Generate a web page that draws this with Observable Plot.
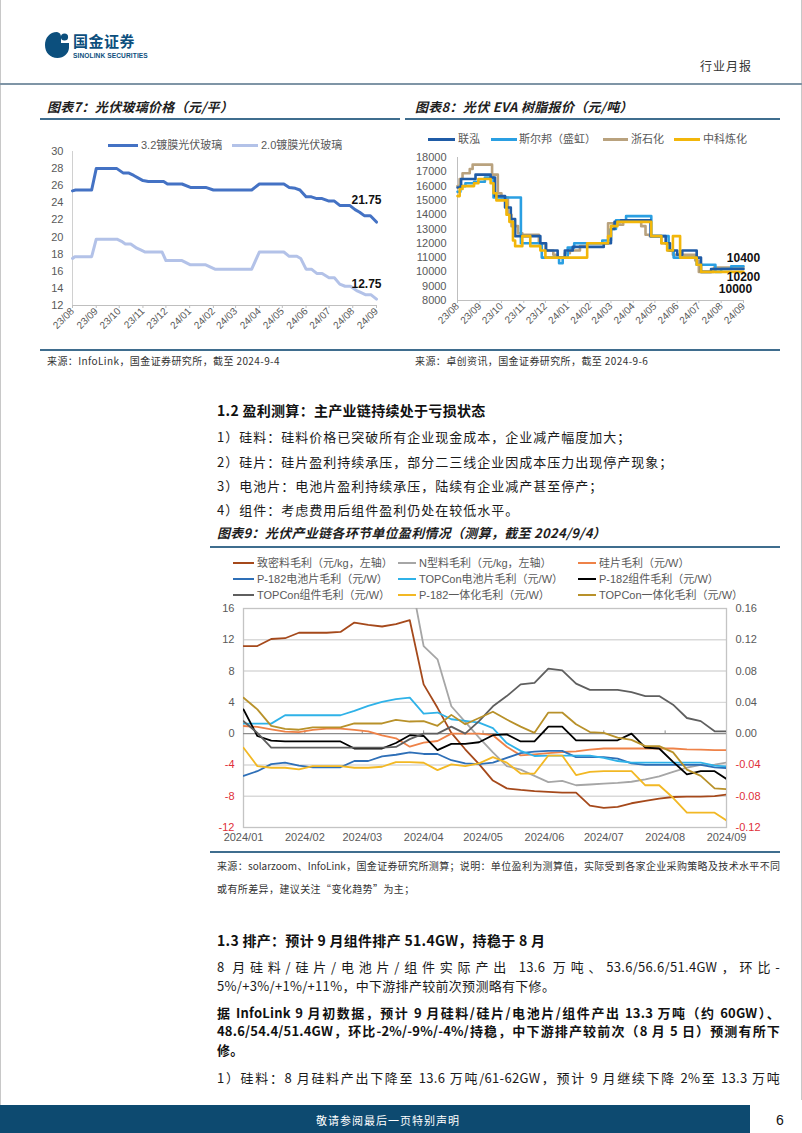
<!DOCTYPE html>
<html><head><meta charset="utf-8">
<script src="https://cdn.jsdelivr.net/npm/d3@7"></script>
<script src="https://cdn.jsdelivr.net/npm/@observablehq/plot@0.6"></script>
<style>
body{margin:0;background:#fff;}
#page{position:relative;width:802px;height:1133px;overflow:hidden;background:#fff;font-family:"Noto Sans CJK SC","Liberation Sans",sans-serif;color:#1a1a1a;}
#page svg{background:transparent;}
</style></head>
<body><div id="page"></div>
<script>
// ---------------- DATA ----------------
// Chart 7: PV glass price (元/平)
const c7Months = ["2023-08-01","2023-09-01","2023-10-01","2023-11-01","2023-12-01","2024-01-01","2024-02-01","2024-03-01","2024-04-01","2024-05-01","2024-06-01","2024-07-01","2024-08-01","2024-09-01"];
const c7YTicks = [12,14,16,18,20,22,24,26,28,30];
const glass32 = [["2023-08-01",25.4],["2023-08-05",25.5],["2023-08-26",25.5],["2023-09-01",28],["2023-09-28",28],["2023-10-06",27.5],["2023-10-13",27.5],["2023-10-20",27.2],["2023-11-01",26.6],["2023-11-08",26.5],["2023-11-28",26.5],["2023-12-03",26.2],["2023-12-22",26.2],["2024-01-02",25.8],["2024-01-22",25.8],["2024-02-01",25.5],["2024-03-22",25.5],["2024-04-01",26.2],["2024-05-03",26.2],["2024-05-10",25.8],["2024-05-18",25.7],["2024-05-24",25.5],["2024-06-01",24.7],["2024-06-08",24.7],["2024-06-15",24.5],["2024-06-22",24.5],["2024-07-01",24.2],["2024-07-08",24.2],["2024-07-15",23.7],["2024-07-28",23.7],["2024-08-04",23.2],["2024-08-10",22.9],["2024-08-16",22.5],["2024-08-24",22.5],["2024-09-01",21.75]];
const glass20 = [["2023-08-01",17.5],["2023-08-04",17.7],["2023-08-26",17.7],["2023-09-01",19.75],["2023-09-28",19.75],["2023-10-04",19.5],["2023-10-09",19.2],["2023-10-16",19.2],["2023-10-24",18.7],["2023-10-29",18.5],["2023-11-04",18.25],["2023-11-26",18.25],["2023-12-01",17.25],["2023-12-22",17.25],["2024-01-02",16.75],["2024-01-22",16.75],["2024-02-03",16.25],["2024-03-22",16.25],["2024-04-01",18.25],["2024-05-03",18.25],["2024-05-10",17.75],["2024-05-20",17.75],["2024-05-25",17.5],["2024-06-01",16.25],["2024-06-08",16.25],["2024-06-15",15.75],["2024-06-22",15.75],["2024-07-01",15.25],["2024-07-08",15.25],["2024-07-15",14.5],["2024-07-22",14.25],["2024-07-29",14.25],["2024-08-06",13.75],["2024-08-12",13.5],["2024-08-18",13.25],["2024-08-25",13.25],["2024-09-01",12.75]];
const c7Labels = [{date:"2024-09-01", value:21.75, text:"21.75", dy:-22},{date:"2024-09-01", value:12.75, text:"12.75", dy:-15}];

// Chart 8: EVA resin price (元/吨)
const c8YTicks = [8000,9000,10000,11000,12000,13000,14000,15000,16000,17000,18000];
const evaLH = [["2023-08-01",15900],["2023-08-06",16500],["2023-08-26",16800],["2023-09-16",16600],["2023-09-22",15300],["2023-10-06",14500],["2023-10-14",13700],["2023-10-20",12500],["2023-11-24",12000],["2023-12-02",11500],["2023-12-18",11000],["2023-12-28",11500],["2024-01-08",11750],["2024-02-20",12000],["2024-03-01",13000],["2024-03-06",13500],["2024-03-15",13600],["2024-04-25",12500],["2024-05-16",12000],["2024-05-22",11500],["2024-06-01",11200],["2024-06-08",11500],["2024-06-28",11000],["2024-07-04",10000],["2024-07-18",10200],["2024-09-01",10200]];
const evaSEB = [["2023-08-01",15600],["2023-08-05",16000],["2023-08-12",16200],["2023-08-24",16300],["2023-09-08",16600],["2023-09-20",15200],["2023-10-28",12000],["2023-11-26",11000],["2023-12-20",10600],["2023-12-25",11000],["2024-01-01",11700],["2024-01-10",12000],["2024-02-18",12200],["2024-03-01",13000],["2024-03-08",13600],["2024-03-22",13900],["2024-04-26",12500],["2024-05-20",11500],["2024-05-27",11000],["2024-06-28",10500],["2024-07-24",10000],["2024-08-01",10200],["2024-08-15",10400],["2024-09-01",10400]];
const evaZSH = [["2023-08-01",16000],["2023-08-04",16500],["2023-08-08",16900],["2023-08-18",17200],["2023-08-22",17500],["2023-09-18",16800],["2023-09-26",15500],["2023-10-01",15200],["2023-10-10",14000],["2023-10-15",13200],["2023-10-24",12700],["2023-10-30",12600],["2023-11-22",12000],["2023-12-01",11500],["2023-12-12",11200],["2023-12-18",11000],["2023-12-28",11300],["2024-01-04",11500],["2024-01-18",11800],["2024-01-28",12000],["2024-02-26",13400],["2024-03-04",13300],["2024-03-18",13600],["2024-04-12",13200],["2024-04-18",12600],["2024-04-24",12500],["2024-05-10",12000],["2024-05-20",11500],["2024-05-26",11200],["2024-06-26",10800],["2024-07-01",10000],["2024-07-22",10300],["2024-09-01",10300]];
const evaZKLH = [["2023-08-01",15300],["2023-08-04",15800],["2023-08-08",16000],["2023-08-24",16200],["2023-08-30",16500],["2023-09-16",16200],["2023-09-20",15500],["2023-09-24",15000],["2023-10-08",14000],["2023-10-12",13500],["2023-10-17",12200],["2023-10-20",11800],["2023-10-30",12500],["2023-11-10",11800],["2023-11-24",11500],["2023-12-01",11000],["2024-01-28",12000],["2024-02-26",12500],["2024-03-01",13200],["2024-03-10",13500],["2024-04-26",12500],["2024-05-10",12000],["2024-05-18",11500],["2024-05-26",12500],["2024-06-05",11000],["2024-06-28",10500],["2024-07-04",10000],["2024-09-01",10000]];
const c8Labels = [{value:10400, text:"10400", dy:-8, dx:0},{value:10200, text:"10200", dy:8, dx:0},{value:10000, text:"10000", dy:17, dx:-8}];

// Chart 9: unit margins, weekly
const c9Months = ["2024-01-01","2024-02-01","2024-03-01","2024-04-01","2024-05-01","2024-06-01","2024-07-01","2024-08-01","2024-09-01"];
const c9LeftTicks = [-12,-8,-4,0,4,8,12,16];
const c9Weeks = ["2024-01-01","2024-01-08","2024-01-15","2024-01-22","2024-01-29","2024-02-05","2024-02-12","2024-02-19","2024-02-26","2024-03-04","2024-03-11","2024-03-18","2024-03-25","2024-04-01","2024-04-08","2024-04-15","2024-04-22","2024-04-29","2024-05-06","2024-05-13","2024-05-20","2024-05-27","2024-06-03","2024-06-10","2024-06-17","2024-06-24","2024-07-01","2024-07-08","2024-07-15","2024-07-22","2024-07-29","2024-08-05","2024-08-12","2024-08-19","2024-08-26","2024-09-01"];
// left axis (元/kg)
const denseSi = [11.2,11.2,12.1,12.2,12.9,12.9,12.9,13.0,14.2,13.9,13.7,14.0,14.5,6.3,3.3,0.1,-2.0,-3.9,-6.0,-7.0,-7.2,-7.35,-7.45,-7.55,-7.55,-9.2,-9.5,-9.35,-8.9,-8.6,-8.3,-8.1,-8.05,-8.05,-8.0,-7.8];
const nTypeSi = [null,null,null,null,null,null,null,null,null,null,null,null,20.5,11.2,9.5,3.5,1.5,-0.5,-2.4,-4.15,-4.6,-5.4,-6.2,-6.05,-6.6,-6.5,-6.4,-6.3,-6.15,-5.85,-5.45,-4.9,-4.35,-4.0,-3.95,-3.7];
// right axis (元/W)
const wafer = [0.0098,0.0086,0.0056,0.0026,0.002,0.0047,0.0064,0.0064,0.0047,0.003,-0.0021,-0.006,-0.0167,-0.0115,-0.0094,0,0,0,-0.002,-0.0167,-0.0278,-0.0265,-0.025,-0.0235,-0.0227,-0.0205,-0.019,-0.019,-0.019,-0.019,-0.019,-0.019,-0.02,-0.0205,-0.021,-0.021];
const p182Cell = [-0.054,-0.048,-0.039,-0.037,-0.041,-0.043,-0.043,-0.043,-0.035,-0.035,-0.029,-0.027,-0.024,-0.026,-0.026,-0.034,-0.038,-0.039,-0.037,-0.031,-0.025,-0.023,-0.022,-0.022,-0.03,-0.03,-0.03,-0.032,-0.038,-0.04,-0.04,-0.04,-0.04,-0.04,-0.043,-0.044];
const topconCell = [0.0128,0.0128,0.0128,0.0235,0.0235,0.0235,0.0235,0.0235,0.029,0.0355,0.0406,0.044,0.046,0.0256,0.027,0.0184,0.0162,0.014,0.007,-0.012,-0.022,-0.0286,-0.028,-0.028,-0.028,-0.028,-0.031,-0.035,-0.037,-0.037,-0.037,-0.037,-0.037,-0.037,-0.041,-0.042];
const p182Mod = [0.031,-0.003,-0.009,-0.01,-0.01,-0.01,-0.01,-0.01,-0.019,-0.019,-0.019,-0.012,-0.002,-0.003,-0.021,-0.013,-0.013,-0.011,-0.002,-0.001,-0.01,-0.01,0.009,0.009,-0.0085,-0.0085,-0.0085,-0.0085,0.0,-0.018,-0.019,-0.036,-0.052,-0.048,-0.048,-0.058];
const topconMod = [0.016,0.001,-0.018,-0.018,-0.018,-0.018,-0.018,-0.018,-0.018,-0.018,-0.018,-0.017,-0.007,0,0,0.009,0,0.016,0.035,0.048,0.063,0.065,0.083,0.081,0.064,0.056,0.056,0.056,0.053,0.048,0.048,0.037,0.02,0.016,0.003,0.003];
const p182Int = [-0.018,-0.0415,-0.0436,-0.0436,-0.0457,-0.0415,-0.0415,-0.0415,-0.0436,-0.0436,-0.0423,-0.0363,-0.0363,-0.0372,-0.0466,-0.0393,-0.0415,-0.038,-0.03,-0.037,-0.051,-0.051,-0.028,-0.028,-0.053,-0.049,-0.048,-0.048,-0.048,-0.066,-0.066,-0.082,-0.101,-0.101,-0.101,-0.111];
const topconInt = [0.046,0.031,0.01,0.006,0.005,0.008,0.008,0.008,0.013,0.013,0.013,0.0175,0.0155,0.016,0.01,0.024,0.012,0.02,0.028,0.018,0.009,0.001,0.027,0.027,0.012,0.002,0.001,-0.005,-0.008,-0.016,-0.016,-0.024,-0.046,-0.054,-0.07,-0.071];

const c9Series = [
  {name:"致密料毛利（元/kg，左轴）", vals:denseSi, k:1, color:"#a5491b"},
  {name:"N型料毛利（元/kg，左轴）", vals:nTypeSi, k:1, color:"#a6a6a6"},
  {name:"硅片毛利（元/W）", vals:wafer, k:100, color:"#ee8248"},
  {name:"P-182电池片毛利（元/W）", vals:p182Cell, k:100, color:"#2e6fb7"},
  {name:"TOPCon电池片毛利（元/W）", vals:topconCell, k:100, color:"#2fb2e8"},
  {name:"P-182组件毛利（元/W）", vals:p182Mod, k:100, color:"#000000"},
  {name:"TOPCon组件毛利（元/W）", vals:topconMod, k:100, color:"#5f5f5f"},
  {name:"P-182一体化毛利（元/W）", vals:p182Int, k:100, color:"#f2b824"},
  {name:"TOPCon一体化毛利（元/W）", vals:topconInt, k:100, color:"#b8912a"}
];

// ---------------- HELPERS ----------------
const page = document.getElementById("page");
const D = s => new Date(s);
function txt(s, x, yc, css, lh){ lh = lh||16; const d=document.createElement("div"); d.textContent=s;
  d.style.cssText="position:absolute;white-space:nowrap;left:"+x+"px;top:"+(yc-lh/2)+"px;line-height:"+lh+"px;"+(css||""); page.appendChild(d); return d;}
function txtJ(s, x, yc, w, css, lh){ const d=txt(s,x,yc,css,lh); d.style.width=w+"px"; d.style.textAlign="justify"; d.style.textAlignLast="justify"; return d;}
function rect(x,y,w,h,color){ const d=document.createElement("div"); d.style.cssText="position:absolute;left:"+x+"px;top:"+y+"px;width:"+w+"px;height:"+h+"px;background:"+color+";"; page.appendChild(d); return d;}
function placeChart(svg, x, y){ const w=document.createElement("div"); w.style.cssText="position:absolute;left:"+x+"px;top:"+y+"px;"; w.appendChild(svg); page.appendChild(w);}
function legItem(x1, x2, y, th, color, label, tx, css){ rect(x1, y-th/2, x2-x1, th, color); txt(label, tx, y, "font-family:'Liberation Sans','Noto Sans CJK SC';font-size:11px;color:#595959;"+(css||""), 14); }

const FONT = "Liberation Sans, Noto Sans CJK SC, sans-serif";

// ---------------- CHART 7 ----------------
const c7 = Plot.plot({
  width:360, height:200, marginLeft:32, marginRight:24, marginTop:21, marginBottom:25,
  style:{fontFamily:FONT, fontSize:"11px", color:"#595959", background:"transparent"},
  x:{type:"utc", domain:[D(c7Months[0]), D(c7Months[c7Months.length-1])], axis:null},
  y:{domain:[12,30], axis:null},
  marks:[
    Plot.ruleX([D(c7Months[0])], {stroke:"#d0d0d0"}),
    Plot.ruleY([12], {stroke:"#bfbfbf"}),
    Plot.axisY({ticks:c7YTicks, tickSize:0, tickPadding:9, label:null, fontSize:11}),
    Plot.axisX({ticks:c7Months.map(D), tickFormat:d3.utcFormat("%y/%m"), tickRotate:-45, tickSize:3, tickPadding:1, label:null, fontSize:10, stroke:"#bfbfbf"}),
    Plot.line(glass20, {x:d=>D(d[0]), y:d=>d[1], stroke:"#b3c2e8", strokeWidth:3}),
    Plot.line(glass32, {x:d=>D(d[0]), y:d=>d[1], stroke:"#4472c4", strokeWidth:3}),
    ...c7Labels.map(l => Plot.text([l], {x:d=>D(d.date), y:"value", text:"text", dx:-10, dy:l.dy, fontWeight:"bold", fontSize:12, fill:"#111"}))
  ]
});
placeChart(c7, 40, 130);

// ---------------- CHART 8 ----------------
const c8End = D("2024-09-01");
const c8 = Plot.plot({
  width:390, height:200, marginLeft:52, marginRight:52, marginTop:27, marginBottom:30,
  style:{fontFamily:FONT, fontSize:"11px", color:"#595959", background:"transparent"},
  x:{type:"utc", domain:[D(c7Months[0]), c8End], axis:null},
  y:{domain:[8000,18000], axis:null},
  marks:[
    Plot.ruleX([D(c7Months[0])], {stroke:"#bfbfbf"}),
    Plot.ruleY([8000], {stroke:"#bfbfbf"}),
    Plot.axisY({ticks:c8YTicks, tickFormat:d3.format("d"), tickSize:0, tickPadding:11, label:null, fontSize:11}),
    Plot.axisX({ticks:c7Months.map(D), tickFormat:d3.utcFormat("%y/%m"), tickRotate:-45, tickSize:3, tickPadding:1, label:null, fontSize:10, stroke:"#bfbfbf"}),
    Plot.line(evaZSH, {x:d=>D(d[0]), y:d=>d[1], stroke:"#b9a27e", strokeWidth:2.6, curve:"step-after"}),
    Plot.line(evaSEB, {x:d=>D(d[0]), y:d=>d[1], stroke:"#2a9fe2", strokeWidth:2.6, curve:"step-after"}),
    Plot.line(evaLH, {x:d=>D(d[0]), y:d=>d[1], stroke:"#1f5ba6", strokeWidth:2.6, curve:"step-after"}),
    Plot.line(evaZKLH, {x:d=>D(d[0]), y:d=>d[1], stroke:"#f2b60a", strokeWidth:2.6, curve:"step-after"}),
    ...c8Labels.map(l => Plot.text([l], {x:()=>c8End, y:"value", text:"text", dx:l.dx, dy:l.dy, fontWeight:"bold", fontSize:12, fill:"#111"}))
  ]
});
placeChart(c8, 405, 130);

// ---------------- CHART 9 ----------------
const c9Data = c9Series.map(s => c9Weeks.map((w,i) => ({date:D(w), v: s.vals[i]==null ? NaN : s.vals[i]*s.k})));
const c9End = D(c9Months[c9Months.length-1]);
const c9 = Plot.plot({
  width:580, height:250, marginLeft:33, marginRight:64, marginTop:8, marginBottom:23,
  style:{fontFamily:FONT, fontSize:"11px", color:"#595959", background:"transparent"},
  x:{type:"utc", domain:[D(c9Months[0]), c9End], axis:null},
  y:{domain:[-12,16], axis:null},
  marks:[
    Plot.ruleY(c9LeftTicks.filter(d=>d!==0 && d!==16 && d!==-12), {stroke:"#d9d9d9", strokeWidth:1.4}),
    Plot.frame({stroke:"#c4c4c4", strokeWidth:1.3}),
    Plot.ruleY([0], {stroke:"#8c8c8c", strokeWidth:1.1}),
    Plot.ruleX(c9Months.slice(1,-1).map(D), {y1:0, y2:0.35, stroke:"#8c8c8c"}),
    Plot.text(c9LeftTicks.filter(d=>d>=0), {y:d=>d, text:d=>String(d), frameAnchor:"left", textAnchor:"end", dx:-9, fill:"#595959", fontSize:11}),
    Plot.text(c9LeftTicks.filter(d=>d<0), {y:d=>d, text:d=>String(d), frameAnchor:"left", textAnchor:"end", dx:-9, fill:"#e0303a", fontSize:11}),
    Plot.text(c9LeftTicks.filter(d=>d>=0), {y:d=>d, text:d=>(d/100).toFixed(2), frameAnchor:"right", textAnchor:"start", dx:9, fill:"#595959", fontSize:11}),
    Plot.text(c9LeftTicks.filter(d=>d<0), {y:d=>d, text:d=>(d/100).toFixed(2), frameAnchor:"right", textAnchor:"start", dx:9, fill:"#e0303a", fontSize:11}),
    Plot.axisX({ticks:c9Months.map(D), tickFormat:d3.utcFormat("%Y/%m"), tickSize:0, tickPadding:6, label:null, fontSize:11}),
    ...c9Series.map((s,i) => Plot.line(c9Data[i], {x:"date", y:"v", stroke:s.color, strokeWidth:1.8, clip:true}))
  ]
});
placeChart(c9, 210, 600);

// ---------------- PAGE TEXT & DECOR ----------------
rect(0,0,1,1133,"#c8c8c8"); rect(801,0,1,1100,"#c8c8c8");
// header
const logo = document.createElement("div");
logo.style.cssText="position:absolute;left:44px;top:31px;";
logo.innerHTML = '<svg width="26" height="28" viewBox="0 0 26 28"><path d="M13 1 C5.5 1 1 7 1 14 C1 21.5 6 27 13.5 27 C20 27 24.5 22.5 25 17 L25 12 L17 12 L17 6 C17 3.5 16 1.5 13 1 Z" fill="#0c4f7d"/><circle cx="20.5" cy="6" r="3.6" fill="#0c4f7d"/></svg>';
page.appendChild(logo);
txt("国金证券", 73, 41, "font-weight:bold;font-size:15px;color:#0c4f7d;letter-spacing:0.5px;", 18);
txt("SINOLINK SECURITIES", 73, 55.5, "font-family:'Liberation Sans';font-weight:bold;font-size:6.6px;color:#0c4f7d;letter-spacing:0.1px;", 8);
txt("行业月报", 700, 66, "font-size:12px;color:#333;letter-spacing:1px;");
rect(0,83,802,2,"#7f95a6");

// chart titles
const TTL = "font-weight:bold;font-style:italic;font-size:13px;color:#1e1e1e;letter-spacing:0.3px;";
txt("图表7：光伏玻璃价格（元/平）", 47, 107, TTL);
rect(40,118,360,1.5,"#3f6d8e");
txt("图表8：光伏 EVA 树脂报价（元/吨）", 415, 107, TTL);
rect(405,118,375,1.5,"#3f6d8e");

// legends chart 7
legItem(108,138,145,3,"#4472c4","3.2镀膜光伏玻璃",141);
legItem(232,258,145,3,"#b3c2e8","2.0镀膜光伏玻璃",261);
// legends chart 8
legItem(428,455,139,3,"#1f5ba6","联泓",458);
legItem(491,517,139,3,"#2a9fe2","斯尔邦（盛虹）",519);
legItem(603,628,139,3,"#b9a27e","浙石化",631);
legItem(674,700,139,3,"#f2b60a","中科炼化",703);

// sources 7/8
rect(40,349,740,1.5,"#3f6d8e");
const SRC = "font-size:10px;color:#333;letter-spacing:0.4px;";
txt("来源：InfoLink，国金证券研究所，截至 2024-9-4", 47, 361, SRC);
txt("来源：卓创资讯，国金证券研究所，截至 2024-9-6", 415, 361, SRC);

// section 1.2
const BODY = "font-size:13px;color:#1a1a1a;letter-spacing:1px;";
txt("1.2 盈利测算：主产业链持续处于亏损状态", 217, 410, "font-size:14px;font-weight:bold;color:#111;letter-spacing:0.3px;");
txt("1）硅料：硅料价格已突破所有企业现金成本，企业减产幅度加大；", 217, 437, BODY);
txt("2）硅片：硅片盈利持续承压，部分二三线企业因成本压力出现停产现象；", 217, 462, BODY);
txt("3）电池片：电池片盈利持续承压，陆续有企业减产甚至停产；", 217, 486, BODY);
txt("4）组件：考虑费用后组件盈利仍处在较低水平。", 217, 510, BODY);

// chart 9 title
txt("图表9：光伏产业链各环节单位盈利情况（测算，截至 2024/9/4）", 217, 533, TTL);
rect(210,546,570,1.5,"#3f6d8e");
// chart 9 legend (3 columns x 3 rows)
const legCols = [[233,254,257],[398,416,419],[578,596,599]];
const legRows = [563,579,595];
c9Series.forEach((s,i) => { const c = legCols[i%3], r = legRows[Math.floor(i/3)]; legItem(c[0], c[1], r, 2, s.color, s.name, c[2]); });

// chart 9 source
rect(210,851,570,1.5,"#3f6d8e");
txtJ("来源：solarzoom、InfoLink，国金证券研究所测算；说明：单位盈利为测算值，实际受到各家企业采购策略及技术水平不同", 217, 866, 563, "font-size:10px;color:#333;");
txt("或有所差异，建议关注“变化趋势”为主；", 217, 889, "font-size:10px;color:#333;letter-spacing:0.4px;");

// section 1.3
txt("1.3 排产：预计 9 月组件排产 51.4GW，持稳于 8 月", 217, 940, "font-size:14px;font-weight:bold;color:#111;letter-spacing:0.3px;");
const P = "font-size:13px;color:#1a1a1a;letter-spacing:0.3px;";
const PB = "font-size:13px;color:#111;font-weight:bold;letter-spacing:0.2px;";
txtJ("8 月硅料/硅片/电池片/组件实际产出 13.6 万吨、53.6/56.6/51.4GW，环比-", 217, 967, 563, P, 18);
txt("5%/+3%/+1%/+11%，中下游排产较前次预测略有下修。", 217, 986, P, 18);
txtJ("据 InfoLink 9 月初数据，预计 9 月硅料/硅片/电池片/组件产出 13.3 万吨（约 60GW）、", 217, 1013, 563, PB, 18);
txtJ("48.6/54.4/51.4GW，环比-2%/-9%/-4%/持稳，中下游排产较前次（8 月 5 日）预测有所下", 217, 1031, 563, PB, 18);
txt("修。", 217, 1050, PB, 18);
txtJ("1）硅料：8 月硅料产出下降至 13.6 万吨/61-62GW，预计 9 月继续下降 2%至 13.3 万吨", 217, 1078, 563, P, 18);

// footer
rect(0,1105,750,28,"#0d4a70");
txt("敬请参阅最后一页特别声明", 316, 1120, "font-size:11px;color:#fff;letter-spacing:1px;");
txt("6", 776, 1120, "font-family:'Liberation Sans';font-size:14px;color:#111;");
</script>
</body></html>
